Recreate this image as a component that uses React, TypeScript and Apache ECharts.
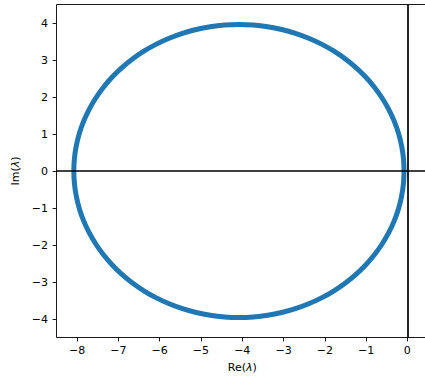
import React, { useEffect, useRef } from "react";
import * as echarts from "echarts";

// Eigenvalue locus (every 5 degrees around the circle)
const reValues = [
  -0.08, -0.095, -0.141, -0.216, -0.321, -0.455, -0.616, -0.803, -1.016,
  -1.252, -1.509, -1.786, -2.08, -2.39, -2.712, -3.045, -3.385, -3.731,
  -4.08, -4.429, -4.775, -5.115, -5.448, -5.77, -6.08, -6.374, -6.651,
  -6.908, -7.144, -7.357, -7.544, -7.705, -7.839, -7.944, -8.019, -8.065,
  -8.08, -8.065, -8.019, -7.944, -7.839, -7.705, -7.544, -7.357, -7.144,
  -6.908, -6.651, -6.374, -6.08, -5.77, -5.448, -5.115, -4.775, -4.429,
  -4.08, -3.731, -3.385, -3.045, -2.712, -2.39, -2.08, -1.786, -1.509,
  -1.252, -1.016, -0.803, -0.616, -0.455, -0.321, -0.216, -0.141, -0.095, -0.08,
];
const imValues = [
  0, 0.345, 0.688, 1.025, 1.354, 1.674, 1.98, 2.271, 2.545,
  2.8, 3.033, 3.244, 3.429, 3.589, 3.721, 3.825, 3.9, 3.945,
  3.96, 3.945, 3.9, 3.825, 3.721, 3.589, 3.429, 3.244, 3.033,
  2.8, 2.545, 2.271, 1.98, 1.674, 1.354, 1.025, 0.688, 0.345,
  0, -0.345, -0.688, -1.025, -1.354, -1.674, -1.98, -2.271, -2.545,
  -2.8, -3.033, -3.244, -3.429, -3.589, -3.721, -3.825, -3.9, -3.945,
  -3.96, -3.945, -3.9, -3.825, -3.721, -3.589, -3.429, -3.244, -3.033,
  -2.8, -2.545, -2.271, -1.98, -1.674, -1.354, -1.025, -0.688, -0.345, 0,
];
const xTicks = [-8, -7, -6, -5, -4, -3, -2, -1, 0];
const yTicks = [-4, -3, -2, -1, 0, 1, 2, 3, 4];

const FONT = "DejaVu Sans";
const fmt = (v: number) => String(v).replace("-", "\u2212");

export default function App() {
  const ref = useRef<HTMLDivElement>(null);
  useEffect(() => {
    document.body.style.margin = "0";
    const chart = echarts.init(ref.current!, null, { renderer: "svg" });
    const points = reValues.map((r, i) => [r, imValues[i]]);
    const nameStyle = {
      fontSize: 11,
      color: "#000",
      fontFamily: FONT,
      rich: { i: { fontStyle: "italic", fontSize: 11, fontFamily: FONT, color: "#000" } },
    };
    chart.setOption({
      animation: false,
      backgroundColor: "#fff",
      textStyle: { fontFamily: FONT },
      grid: {
        left: 56.5,
        right: 4,
        top: 4.5,
        bottom: 45.5,
        show: true,
        borderColor: "#000",
        borderWidth: 0.9,
        backgroundColor: "transparent",
      },
      xAxis: {
        type: "value",
        min: -8.5,
        max: 0.5,
        splitLine: { show: false },
        axisLine: { show: false, onZero: false },
        axisTick: {
          show: true,
          length: 3.9,
          lineStyle: { color: "#000", width: 0.9 },
          customValues: xTicks,
        },
        axisLabel: {
          customValues: xTicks,
          formatter: fmt,
          fontSize: 11,
          color: "#000",
          fontFamily: FONT,
          margin: 7,
        },
        name: "Re({i|λ})",
        nameLocation: "middle",
        nameGap: 24,
        nameTextStyle: nameStyle,
      },
      yAxis: {
        type: "value",
        min: -4.5,
        max: 4.5,
        splitLine: { show: false },
        axisLine: { show: false, onZero: false },
        axisTick: {
          show: true,
          length: 3.9,
          lineStyle: { color: "#000", width: 0.9 },
          customValues: yTicks,
        },
        axisLabel: {
          customValues: yTicks,
          formatter: fmt,
          fontSize: 11,
          color: "#000",
          fontFamily: FONT,
          margin: 8.5,
        },
        name: "Im({i|λ})",
        nameLocation: "middle",
        nameGap: 32,
        nameTextStyle: nameStyle,
      },
      series: [
        {
          type: "line",
          data: points,
          smooth: 0.3,
          showSymbol: false,
          symbol: "none",
          lineStyle: { color: "#1f77b4", width: 5 },
          z: 2,
          silent: true,
        },
        {
          type: "line",
          data: [],
          z: 3,
          markLine: {
            silent: true,
            symbol: "none",
            label: { show: false },
            lineStyle: { color: "#000", width: 1.7, type: "solid" },
            data: [{ xAxis: 0 }, { yAxis: 0 }],
          },
        },
      ],
    });
    return () => chart.dispose();
  }, []);
  return (
    <div style={{ width: 425, height: 383, overflow: "hidden" }}>
      <div ref={ref} style={{ width: 432, height: 383 }} />
    </div>
  );
}
